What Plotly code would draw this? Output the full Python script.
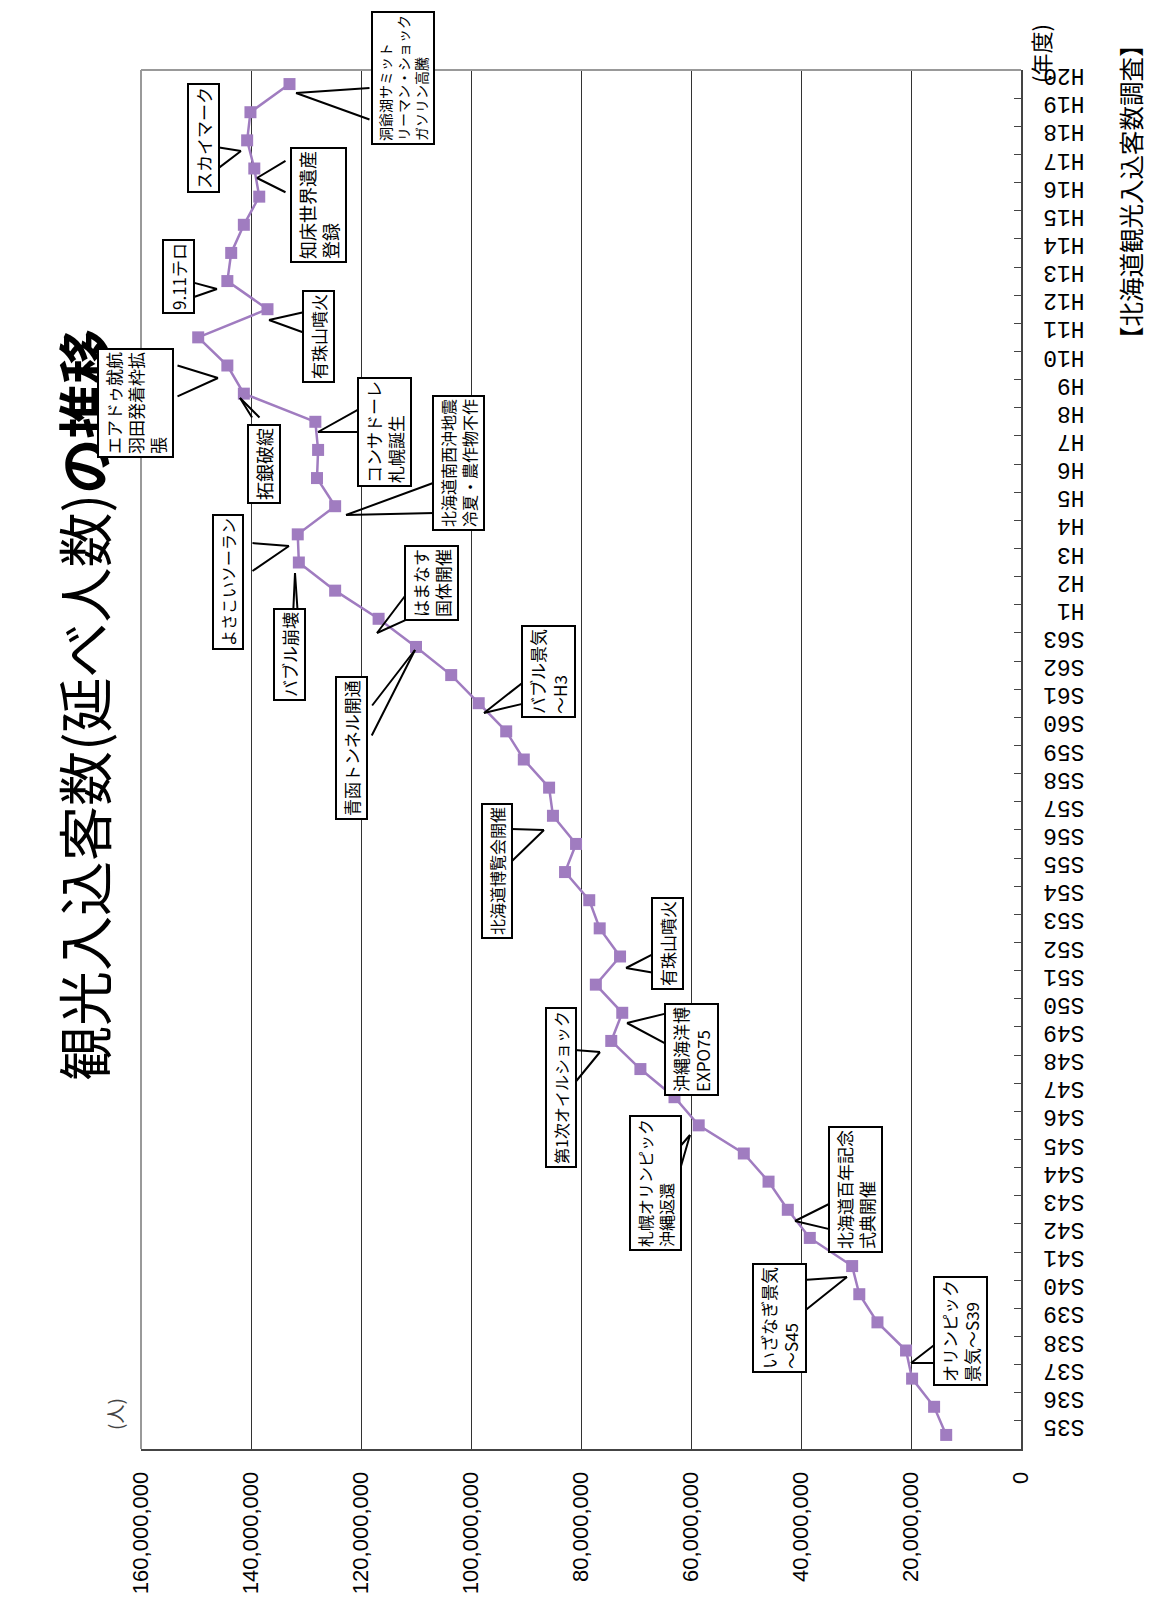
import plotly.graph_objects as go

# ---------------- data ----------------
years = ["S35", "S36", "S37", "S38", "S39", "S40", "S41", "S42", "S43", "S44",
         "S45", "S46", "S47", "S48", "S49", "S50", "S51", "S52", "S53", "S54",
         "S55", "S56", "S57", "S58", "S59", "S60", "S61", "S62", "S63",
         "H1", "H2", "H3", "H4", "H5", "H6", "H7", "H8", "H9", "H10",
         "H11", "H12", "H13", "H14", "H15", "H16", "H17", "H18", "H19", "H20"]
visitors = [13600000, 15800000, 19800000, 20900000, 26100000, 29400000, 30700000,
            38400000, 42400000, 45900000, 50400000, 58600000, 63000000, 69200000,
            74500000, 72500000, 77300000, 72900000, 76600000, 78500000, 82900000,
            80900000, 85100000, 85800000, 90400000, 93600000, 98600000, 103600000,
            110000000, 116800000, 124700000, 131300000, 131500000, 124700000,
            128000000, 127800000, 128300000, 141300000, 144300000, 149600000,
            137000000, 144300000, 143600000, 141300000, 138500000, 139400000,
            140700000, 140100000, 133000000]
value_ticks = [0, 20000000, 40000000, 60000000, 80000000, 100000000,
               120000000, 140000000, 160000000]

# callouts: text, font size, box centre (px), wedge tip (px), wedge bases (px)
callout_texts = [
    "洞爺湖サミット<br>リーマン・ショック<br>ガソリン高騰",
    "スカイマーク",
    "知床世界遺産<br>登録",
    "9.11テロ",
    "有珠山噴火",
    "エアドゥ就航<br>羽田発着枠拡<br>張",
    "拓銀破綻",
    "コンサドーレ<br>札幌誕生",
    "北海道南西沖地震<br>冷夏・農作物不作",
    "よさこいソーラン",
    "バブル崩壊",
    "はまなす<br>国体開催",
    "青函トンネル開通",
    "バブル景気<br>～H3",
    "北海道博覧会開催",
    "有珠山噴火",
    "沖縄海洋博<br>EXPO75",
    "第1次オイルショック",
    "札幌オリンピック<br>沖縄返還",
    "北海道百年記念<br>式典開催",
    "いざなぎ景気<br>～S45",
    "オリンピック<br>景気～S39",
]
callout_font = [14, 17, 18, 17, 17, 17, 18, 17, 16, 16, 17, 17, 17, 17, 16, 17, 17, 16, 16, 17, 17, 17]
callout_box = [(403, 78), (203, 138), (319, 205), (178, 277), (319, 337), (136, 403),
               (264, 464), (384, 432), (458, 463), (228, 582), (289, 655), (431, 583),
               (351, 748), (548, 672), (497, 871), (667, 944), (691, 1050), (561, 1088),
               (655, 1183), (855, 1190), (779, 1318), (960, 1331)]
callout_tip = [(296, 93), (241, 151), (257, 178), (217, 289), (269, 320), (218, 378),
               (240, 398), (318, 432), (346, 515), (289, 546), (295, 573), (377, 633),
               (415, 650), (484, 713), (544, 830), (626, 968), (627, 1023), (600, 1052),
               (690, 1135), (795, 1221), (847, 1277), (911, 1363)]
callout_base = [((371, 88), (371, 120)), ((216, 147), (216, 170)), ((287, 160), (287, 193)),
                ((191, 282), (191, 298)), ((305, 312), (305, 333)), ((176, 365), (176, 397)),
                ((253, 419), (261, 419)), ((361, 408), (361, 432)), ((436, 482), (436, 513)),
                ((251, 543), (251, 572)), ((293, 617), (298, 617)), ((408, 592), (408, 619)),
                ((371, 707), (371, 737)), ((526, 680), (526, 703)), ((510, 829), (510, 863)),
                ((655, 953), (655, 973)), ((668, 1013), (668, 1045)), ((573, 1050), (573, 1085)),
                ((677, 1150), (677, 1180)), ((833, 1202), (833, 1230)), ((802, 1280), (802, 1313)),
                ((938, 1342), (938, 1363))]

# ---------------- layout helpers ----------------
OFF = 8  # page body margin
W, H = 1155 - OFF, 1609 - OFF
ML, MT = 141 - OFF, 70 - OFF
PW, PH = 880, 1379
MR, MB = W - ML - PW, H - MT - PH


def dx(px):
    return (px - OFF - ML) / PW


def dy(py):
    return (MT + PH - (py - OFF)) / PH


LINE_COLOR = "#A07CC0"
JP = "Noto Sans CJK JP"

fig = go.Figure()
fig.add_trace(go.Scatter(
    x=visitors, y=years, mode="lines+markers",
    line=dict(color=LINE_COLOR, width=2.5),
    marker=dict(symbol="square", size=12, color=LINE_COLOR),
    hoverinfo="skip", showlegend=False, cliponaxis=False,
))

# titles / labels (drawn first so callouts sit on top)
annotations = [
    dict(xref="paper", yref="paper", x=dx(82), y=dy(705), textangle=-90,
         text="観光入込客数(延べ人数)<b>の推移</b>", showarrow=False,
         font=dict(family=JP, size=55, color="black"), xanchor="center", yanchor="middle"),
    dict(xref="paper", yref="paper", x=dx(114), y=dy(1414), textangle=-90,
         text="(人)", showarrow=False,
         font=dict(family=JP, size=19, color="#444"), xanchor="center", yanchor="middle"),
    dict(xref="paper", yref="paper", x=dx(1040), y=dy(54), textangle=-90,
         text="(年度)", showarrow=False,
         font=dict(family=JP, size=22, color="black"), xanchor="center", yanchor="middle"),
    dict(xref="paper", yref="paper", x=dx(1130), y=dy(192), textangle=-90,
         text="【北海道観光入込客数調査】", showarrow=False,
         font=dict(family=JP, size=24.5, color="black"), xanchor="center", yanchor="middle"),
]
# wedges (two lines each)
for tip, bases in zip(callout_tip, callout_base):
    for b in bases:
        annotations.append(dict(
            xref="x domain", yref="y domain", axref="x domain", ayref="y domain",
            x=dx(tip[0]), y=dy(tip[1]), ax=dx(b[0]), ay=dy(b[1]),
            text="", showarrow=True, arrowhead=0, arrowwidth=2, arrowcolor="black",
        ))
# boxes
for txt, fs, box in zip(callout_texts, callout_font, callout_box):
    annotations.append(dict(
        xref="x domain", yref="y domain", x=dx(box[0]), y=dy(box[1]),
        xanchor="center", yanchor="middle", text=txt, textangle=-90,
        showarrow=False, align="left", font=dict(family=JP, size=fs, color="black"),
        bgcolor="white", bordercolor="black", borderwidth=2, borderpad=2,
    ))

shapes = [
    # outer chart border
    dict(type="rect", xref="paper", yref="paper", x0=dx(7), x1=dx(1175), y0=dy(1630), y1=dy(4),
         line=dict(color="#555", width=2), layer="below"),
    # plot frame top & left (gray)
    dict(type="line", xref="paper", yref="paper", x0=0, x1=1, y0=1, y1=1,
         line=dict(color="#999", width=2), layer="above"),
    dict(type="line", xref="paper", yref="paper", x0=0, x1=0, y0=0, y1=1,
         line=dict(color="#999", width=2), layer="above"),
]

fig.update_layout(
    width=W, height=H,
    margin=dict(l=ML, r=MR, t=MT, b=MB, pad=0, autoexpand=False),
    paper_bgcolor="white", plot_bgcolor="white",
    showlegend=False,
    annotations=annotations,
    shapes=shapes,
    xaxis=dict(
        range=[160000000, 0], autorange=False, tickvals=value_ticks,
        tickformat=",d", tickangle=-90, showgrid=True, gridcolor="#333", gridwidth=1,
        zeroline=False, showline=True, linecolor="#444", linewidth=2, ticks="",
        tickfont=dict(family="Liberation Sans", size=22, color="black"),
        ticklabelstandoff=12, automargin=False,
    ),
    yaxis=dict(
        type="category", categoryorder="array", categoryarray=years,
        range=[-0.5, len(years) - 0.5], autorange=False,
        tickmode="linear", tick0=0, dtick=1,
        side="right", showgrid=False, zeroline=False,
        showline=True, linecolor="#444", linewidth=2,
        ticks="inside", ticklen=7, tickcolor="#444", tickson="boundaries",
        tickangle=180,
        tickfont=dict(family="Liberation Mono", size=23, color="black"),
        ticklabelstandoff=57, automargin=False,
    ),
)

fig.write_html("out.html")
